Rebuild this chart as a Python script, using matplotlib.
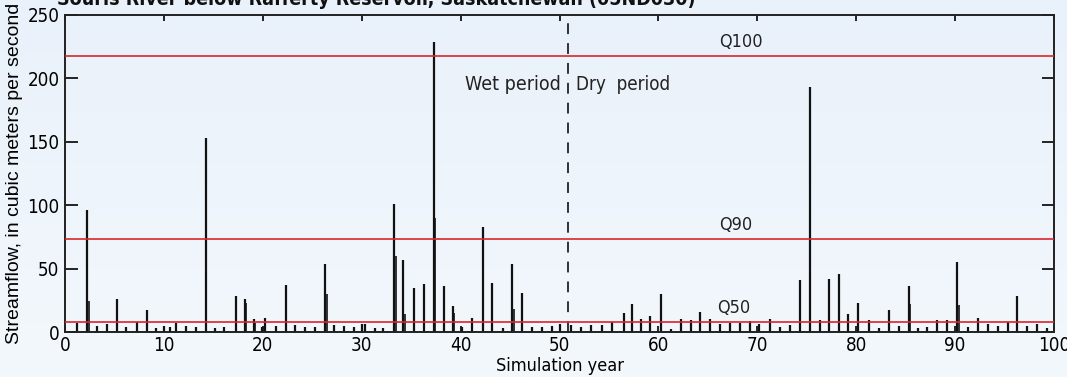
import matplotlib
matplotlib.use("Agg")
import matplotlib.pyplot as plt
import numpy as np

# ---- data ----
peak_years = [1.2, 2.25, 3.2, 4.25, 5.25, 6.2, 7.25, 8.25, 9.25, 10.0, 10.6, 11.2, 12.2, 13.2,
              14.25, 15.2, 16.1, 17.25, 18.2, 19.1, 19.9, 20.2, 21.3, 22.3, 23.3, 24.3, 25.25,
              26.3, 27.2, 28.2, 29.2, 30.0, 30.3, 31.3, 32.2, 33.3, 34.2, 35.3, 36.3, 37.3,
              38.3, 39.2, 40.1, 41.2, 42.3, 43.2, 44.3, 45.2, 46.2, 47.2, 48.2, 49.2, 50.0,
              51.2, 52.2, 53.2, 54.3, 55.3, 56.5, 57.3, 58.2, 59.2, 60.3, 61.3, 62.3, 63.3,
              64.2, 65.2, 66.2, 67.2, 68.3, 69.3, 70.2, 71.3, 72.3, 73.3, 74.3, 75.3, 76.3,
              77.3, 78.3, 79.2, 80.2, 81.3, 82.3, 83.3, 84.3, 85.3, 86.2, 87.2, 88.2, 89.2,
              90.2, 91.3, 92.3, 93.3, 94.3, 95.3, 96.3, 97.3, 98.3, 99.3]
peak_flows = [7, 96, 5, 6, 26, 4, 8, 17, 3, 5, 4, 7, 5, 4,
              153, 3, 4, 28, 26, 10, 4, 11, 5, 37, 5.5, 4, 4,
              54, 5.5, 4.5, 4, 6, 6, 3, 3, 101, 57, 34.5, 38, 229,
              36, 20.5, 4, 11, 83, 39, 3, 54, 30.5, 4, 4, 5, 6,
              5.5, 4, 5.5, 5.5, 8, 15, 22, 10, 12.6, 30, 2, 10, 9.5,
              16, 10, 6, 7, 7, 9, 6, 10, 4, 5.5, 41, 193, 9.5,
              42, 46, 14, 22.6, 9.5, 3.5, 17.4, 5, 36, 3.5, 4, 9.5, 9.5,
              55.5, 4, 10.8, 6, 4.5, 8, 28.4, 5, 6, 3.5]
second_years = [2.4, 18.35, 19.25, 26.45, 33.45, 34.35, 37.45, 39.35, 45.35, 85.4, 90.35]
second_flows = [24.5, 22.6, 7, 30, 60, 14, 90, 15, 18, 22, 21]

q_levels = [218, 73, 8]
q_labels = ["Q100", "Q90", "Q50"]
split_year = 50.9

title = "Souris River below Rafferty Reservoir, Saskatchewan (05ND030)"
xlabel = "Simulation year"
ylabel = "Streamflow, in cubic meters per second"
xticks = list(range(0, 101, 10))
yticks = list(range(0, 251, 50))

# ---- style ----
W, H = 1067, 377
bg = "#EDF4FB"
red = "#D9262B"
ink = "#222222"
cond = dict(family=["DejaVu Sans"], stretch="condensed")
regular = ["Liberation Sans", "DejaVu Sans"]

fig = plt.figure(figsize=(W / 100, H / 100), dpi=100, facecolor=bg)

# subtle vertical gradient background
bgax = fig.add_axes([0, 0, 1, 1], zorder=-10)
grad = np.linspace(0, 1, 256).reshape(-1, 1)
top_c = np.array([0xE9, 0xF1, 0xFA]) / 255
bot_c = np.array([0xF3, 0xF8, 0xFC]) / 255
img = top_c[None, None, :] * (1 - grad[:, :, None]) + bot_c[None, None, :] * grad[:, :, None]
bgax.imshow(img, aspect="auto", extent=[0, 1, 0, 1], origin="upper")
bgax.axis("off")

ax = fig.add_axes([65 / W, 1 - 332 / H, (1054 - 65) / W, (332 - 15) / H])
ax.patch.set_alpha(0)

ax.vlines(peak_years, 0, peak_flows, color="#111111", lw=1.6)
ax.vlines(second_years, 0, second_flows, color="#111111", lw=1.2)

for q in q_levels:
    ax.axhline(q, color=red, lw=1.2, zorder=3)
ax.text(68.3, q_levels[0] + 4, q_labels[0], fontsize=13, ha="center", va="bottom", color=ink, **cond)
ax.text(67.8, q_levels[1] + 4, q_labels[1], fontsize=13, ha="center", va="bottom", color=ink, **cond)
ax.text(67.6, q_levels[2] + 4, q_labels[2], fontsize=13, ha="center", va="bottom", color=ink, **cond)

ax.axvline(split_year, color=ink, lw=1.3, ls=(0, (6, 5)), zorder=2)
ax.text(split_year - 0.8, 195, "Wet period", fontsize=14, ha="right", va="center", color=ink, **cond)
ax.text(split_year + 0.8, 195, "Dry  period", fontsize=13.5, ha="left", va="center", color=ink, **cond)

ax.set_xlim(0, 100)
ax.set_ylim(0, 250)
ax.set_xticks(xticks)
ax.set_yticks(yticks)
ax.tick_params(axis="y", direction="in", length=9, width=1.2, right=True, left=True,
               labelsize=13.5, pad=4)
ax.tick_params(axis="x", direction="in", length=4, width=1.2, top=True, bottom=True,
               labelsize=13.5, pad=3)
for lbl in ax.get_xticklabels() + ax.get_yticklabels():
    lbl.set_family("DejaVu Sans")
    lbl.set_stretch("condensed")
for s in ax.spines.values():
    s.set_linewidth(1.4)
    s.set_color(ink)

ax.set_xlabel(xlabel, fontsize=13, labelpad=1, **cond)
ax.set_ylabel(ylabel, fontsize=14, family=regular, labelpad=3)

fig.text(57 / W, 1 - 5 / H, title, fontsize=14, fontweight="bold",
         ha="left", va="baseline", color="#111111", **cond)

fig.savefig("out.png", dpi=100, facecolor=bg)
